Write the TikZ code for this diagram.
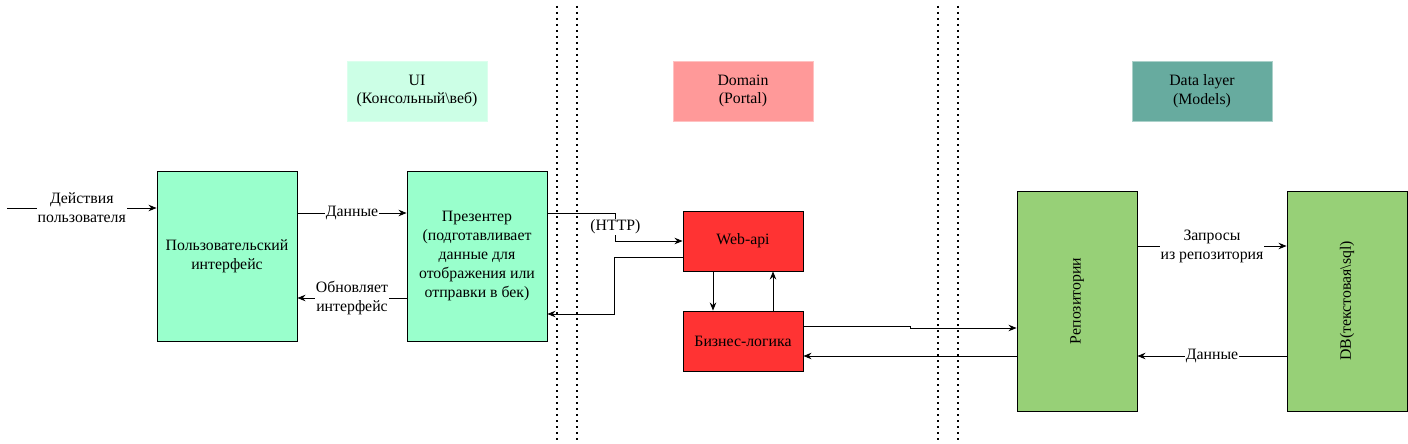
\documentclass[tikz,border=0pt]{standalone}
\usepackage{fontspec}
\setmainfont{Liberation Serif}
\usetikzlibrary{arrows.meta, positioning, calc}
\definecolor{uifill}{RGB}{153, 255, 204}
\definecolor{uihead}{RGB}{204, 255, 230}
\definecolor{domfill}{RGB}{255, 51, 51}
\definecolor{domhead}{RGB}{255, 153, 153}
\definecolor{datafill}{RGB}{151, 208, 119}
\definecolor{datahead}{RGB}{103, 171, 159}

\begin{document}
\begin{tikzpicture}[x=1pt, y=-1pt,
          every node/.style={font=\fontsize{15.8}{18.9}\selectfont},
          blk/.style={draw=black, line width=0.9pt, align=center,
                      inner sep=2pt},
          big/.style={blk, minimum width=140pt, minimum height=170pt},
          small/.style={blk, minimum width=120pt, minimum height=60pt,
                        fill=domfill},
          tall/.style={blk, minimum width=120pt, minimum height=220pt,
                       fill=datafill},
          hdr/.style={minimum width=140pt, minimum height=60pt,
                      align=center, line width=0.9pt},
          lbl/.style={fill=white, inner sep=1pt, align=center},
          arr/.style={-{Stealth[length=8pt, width=6.5pt]},
                      line width=0.9pt},
          sep/.style={line width=2pt, dash pattern=on 2pt off 4pt},
      ]
      \useasboundingbox (0,0) rectangle (1408,444);

      % layer separators
      \draw[sep] (557,6) -- (557,444);
      \draw[sep] (577,6) -- (577,444);
      \draw[sep] (938,6) -- (938,444);
      \draw[sep] (958,6) -- (958,444);

      % headers
      \node[hdr, fill=uihead, draw=uihead!70!white] (hui)
          at (417, 91) {UI\\(Консольный\textbackslash веб)};
      \node[hdr, fill=domhead, draw=domhead!60!white] (hdom)
          at (743, 91) {Domain\\(Portal)};
      \node[hdr, fill=datahead, draw=datahead!55!white] (hdata)
          at (1202, 91) {Data layer\\(Models)};

      % blocks
      \node[big, fill=uifill] (usr)
          at (227, 256) {Пользовательский\\интерфейс};
      \node[big, fill=uifill] (pres)
          at (477, 256) {Презентер\\(подготавливает\\данные для\\отображения или\\отправки в бек)};
      \node[small] (web) at (743, 241) {Web-api};
      \node[small] (biz) at (743, 341) {Бизнес-логика};
      \node[tall] (repo) at (1077, 301) {\rotatebox{90}{Репозитории}};
      \node[tall] (db) at (1347, 301) {\rotatebox{90}{DB(текстовая\textbackslash sql)}};

      \coordinate (act) at (7, 208);

      % connectors
      \draw[arr] (act) -- node[lbl] {Действия\\пользователя}
          ([yshift=48pt]usr.west);
      \draw[arr] ([yshift=43pt]usr.east) -- node[lbl] {Данные}
          ([yshift=43pt]pres.west);
      \draw[arr] ([yshift=-42pt]pres.west) -- node[lbl] {Обновляет\\интерфейс}
          ([yshift=-42pt]usr.east);
      \draw[arr] ([yshift=43pt]pres.east) -- ++(68,0)
          |- node[lbl, pos=0.25] {(HTTP)} (web.west);
      \draw[arr] ([yshift=-16pt]web.west) -- ++(-68,0)
          |- ([yshift=-58pt]pres.east);
      \draw[arr] ([xshift=-30pt]web.south) -- ([xshift=-30pt]biz.north);
      \draw[arr] ([xshift=30pt]biz.north) -- ([xshift=30pt]web.south);
      \draw[arr] ([yshift=15pt]biz.east) -- ++(107,0) -- ++(0,2)
          -- ([yshift=-27pt]repo.west);
      \draw[arr] ([yshift=-55pt]repo.west) -- ([yshift=-15pt]biz.east);
      \draw[arr] ([yshift=55pt]repo.east) -- node[lbl] {Запросы\\из репозитория}
          ([yshift=55pt]db.west);
      \draw[arr] ([yshift=-55pt]db.west) -- node[lbl] {Данные}
          ([yshift=-55pt]repo.east);
      \end{tikzpicture}
\end{document}
